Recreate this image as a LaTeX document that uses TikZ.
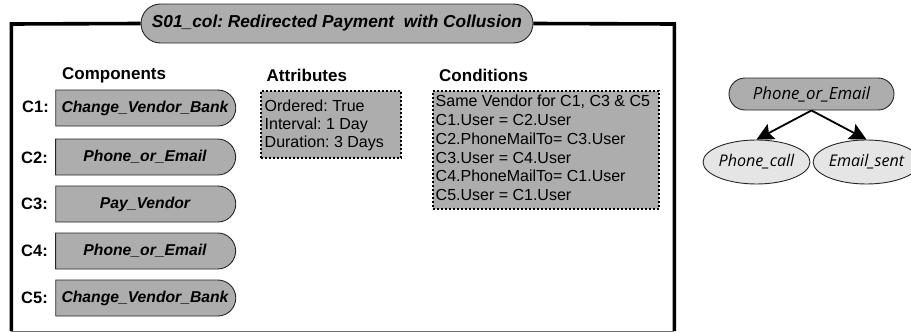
\documentclass[tikz,border=0pt]{standalone}
\usepackage{fontspec}
\setmainfont{Liberation Sans}
\newfontfamily\notef{Open Sans}
\usetikzlibrary{shapes.misc,shapes.geometric,arrows.meta}
\frenchspacing
\tikzset{
  x=1pt,y=-1pt,
  pill/.style={draw=black!85,fill=black!32,rounded rectangle,line width=0.9pt,inner sep=0pt},
  compbox/.style={pill,rounded rectangle west arc=none,minimum width=180,minimum height=36,font=\fontsize{15.7}{18}\selectfont\bfseries\itshape},
  clabel/.style={font=\fontsize{16.5}{18}\selectfont\bfseries,anchor=east,inner sep=0pt},
  heading/.style={font=\fontsize{17}{19}\selectfont\bfseries,anchor=west,inner sep=0pt},
  infobox/.style={draw=black,fill=black!32,dash pattern=on 1.8pt off 2.2pt,line width=1.8pt,anchor=north west,inner sep=0pt},
  attrtext/.style={anchor=north west,inner sep=0pt,align=left,font=\fontsize{16}{18.1}\selectfont},
  condtext/.style={anchor=north west,inner sep=0pt,align=left,font=\fontsize{16}{18.8}\selectfont},
  evt/.style={draw=black!85,fill=black!10,ellipse,line width=0.9pt,inner sep=0pt,minimum height=44,font=\notef\itshape\fontsize{16.1}{18}\selectfont},
  framel/.style={line width=3.6pt,line join=miter},
  flow/.style={line width=1.8pt,-{Stealth[length=17pt,width=17pt,inset=3pt]}}
}
\begin{document}
\begin{tikzpicture}
\useasboundingbox (0,0) rectangle (911,332);
\coordinate (tl) at (11.3,24);
\coordinate (tr) at (674.3,24);
\coordinate (bl) at (11.3,331);
\coordinate (br) at (674.3,331);
\node[pill,minimum width=392,minimum height=39,font=\fontsize{17.3}{19}\selectfont\bfseries\itshape] (title) at (337,23.5) {S01\_col: Redirected Payment\ \ with Collusion};
\draw[framel] (title.west) -- (tl) -- (bl);
\draw[framel] (title.east) -- (tr) -- (br);
\draw[line width=1pt,black!55] (bl) -- (br);

\node[heading] (hc) at (62,75.5) {Components};
\node[heading] (ha) at (266.5,75.5) {Attributes};
\node[heading] (hd) at (439,75.5) {Conditions};

\node[compbox] (c1) at (145,108) {Change\_Vendor\_Bank};
\node[compbox] (c2) at (145,157) {Phone\_or\_Email};
\node[compbox] (c3) at (145,204) {Pay\_Vendor};
\node[compbox] (c4) at (145,251) {Phone\_or\_Email};
\node[compbox] (c5) at (145,298) {Change\_Vendor\_Bank};
\node[clabel] (l1) at (49,107) {C1:};
\node[clabel] (l2) at (48,158) {C2:};
\node[clabel] (l3) at (48,204) {C3:};
\node[clabel] (l4) at (48,251) {C4:};
\node[clabel] (l5) at (48,298) {C5:};

\node[infobox,minimum width=140,minimum height=67] (attr) at (260,90) {};
\node[attrtext] (attrt) at (264.5,99.5) {Ordered: True\\Interval: 1 Day\\Duration: 3 Days};
\node[infobox,minimum width=226,minimum height=118] (cond) at (432,90) {};
\node[condtext] (condt) at (435.5,95) {Same Vendor for C1, C3 \& C5\\C1.User = C2.User\\C2.PhoneMailTo= C3.User\\C3.User = C4.User\\C4.PhoneMailTo= C1.User\\C5.User = C1.User};

\node[pill,minimum width=165,minimum height=32,font=\notef\itshape\fontsize{16.8}{18}\selectfont] (p) at (811.5,94) {Phone\_or\_Email};
\node[evt,minimum width=103] (pc) at (756.5,162) {Phone\_call};
\node[evt,minimum width=103] (es) at (866.5,162) {Email\_sent};
\draw[flow] (p.south) -- (pc.north);
\draw[flow] (p.south) -- (es.north);
\end{tikzpicture}
\end{document}
